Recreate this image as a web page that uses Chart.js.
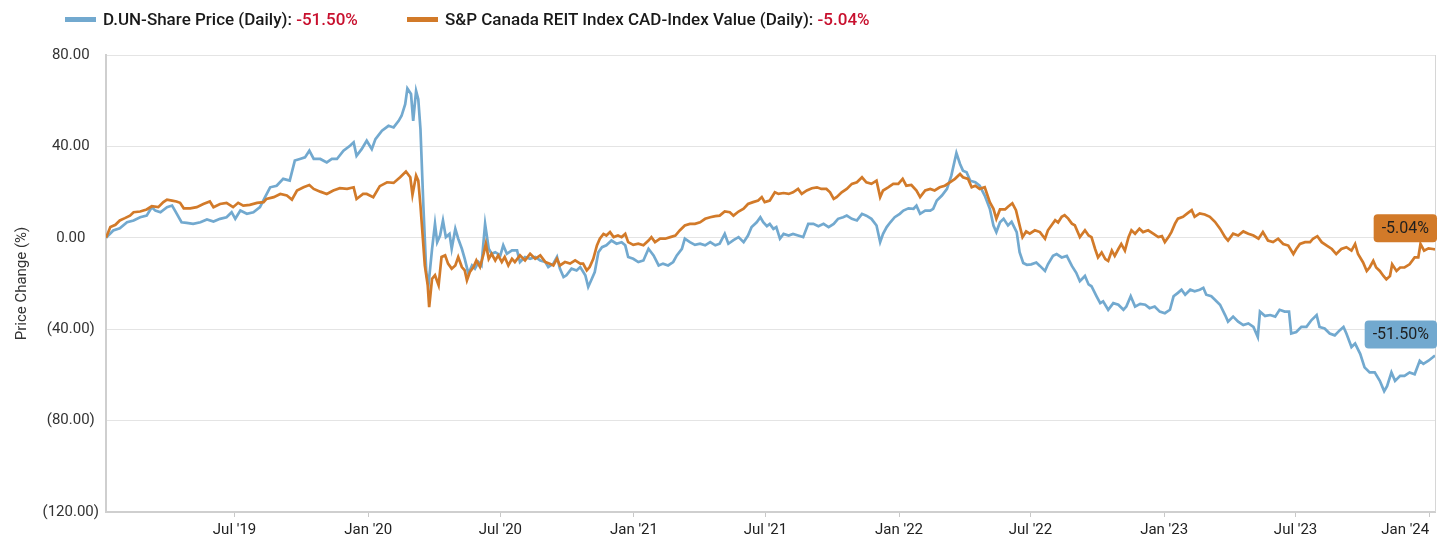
<!DOCTYPE html>
<html><head><meta charset="utf-8">
<script src="https://cdn.jsdelivr.net/npm/chart.js@4.4.1/dist/chart.umd.min.js"></script>
<style>
html,body{margin:0;padding:0;background:#fff;}
#wrap{position:relative;width:1450px;height:546px;overflow:hidden;}
canvas{position:absolute;left:0;top:0;}
#legend{position:absolute;left:0;top:0;width:1450px;height:40px;font-family:Roboto,sans-serif;font-size:17px;font-weight:500;color:#1a1a1a;}
.item{position:absolute;top:9px;height:20px;line-height:20px;white-space:nowrap;}
.sw{position:absolute;left:0;top:8px;width:31px;height:5px;}
.lbl{position:absolute;left:38px;top:0;}
.pct{color:#c8102e;}
</style></head>
<body>
<div id="wrap">
<canvas id="c" width="1450" height="546"></canvas>
<div id="legend"></div>
</div>
<script>
// x values: days since 2019-01-01
const seriesNames = ["D.UN-Share Price (Daily)", "S&P Canada REIT Index CAD-Index Value (Daily)"];
const tickDays = [181, 365, 547, 731, 912, 1096, 1277, 1461, 1642, 1826];
const tickLabels = ["Jul '19", "Jan '20", "Jul '20", "Jan '21", "Jul '21", "Jan '22", "Jul '22", "Jan '23", "Jul '23", "Jan '24"];
const yTicks = [80, 40, 0, -40, -80, -120];

const dunDays = [4,14,23,33,42,51,60,67,72,79,88,95,99,108,115,124,134,143,152,161,170,177,182,189,198,207,216,223,230,239,248,257,264,271,278,284,290,299,308,315,322,331,340,345,349,356,363,370,375,384,393,400,407,411,416,419,424,427,431,434,437,441,445,448,453,457,460,464,468,472,477,480,485,489,494,498,503,508,512,517,521,526,531,535,540,547,551,556,563,570,574,581,588,595,602,609,613,620,625,629,634,638,645,652,657,664,668,673,677,682,687,693,700,707,714,719,723,730,737,744,751,758,765,771,778,785,790,797,801,808,815,822,829,836,843,849,856,861,868,875,882,888,893,900,905,909,914,918,923,927,932,937,944,950,957,964,971,978,985,992,999,1006,1012,1019,1024,1031,1038,1045,1051,1058,1065,1070,1074,1079,1084,1090,1097,1102,1109,1116,1120,1125,1132,1139,1143,1148,1155,1162,1168,1175,1180,1184,1189,1194,1201,1207,1214,1221,1226,1230,1235,1240,1246,1251,1258,1262,1267,1272,1278,1285,1290,1297,1301,1308,1313,1320,1327,1334,1340,1345,1352,1357,1361,1368,1373,1377,1384,1391,1398,1405,1409,1415,1421,1428,1435,1441,1448,1455,1462,1469,1474,1480,1485,1490,1497,1503,1510,1515,1519,1526,1531,1538,1545,1549,1556,1563,1570,1577,1584,1590,1593,1600,1607,1614,1620,1627,1633,1636,1643,1650,1657,1664,1671,1675,1682,1689,1696,1703,1708,1712,1719,1724,1731,1737,1744,1751,1758,1764,1768,1774,1779,1786,1792,1799,1806,1813,1818,1825,1831,1834];
const dunValues = [0,3.2,4.2,6.8,7.6,9.0,9.7,13.4,11.9,11.2,13.4,14.1,11.9,6.8,6.5,6.1,6.8,8.0,7.1,8.3,9.0,11.2,8.3,11.9,10.5,11.2,13.4,17.8,22.1,22.8,25.8,25.0,33.8,34.5,35.2,38.1,34.5,34.5,33.0,34.5,34.5,38.1,40.3,41.8,35.9,38.8,42.5,38.8,43.2,46.9,49.0,48.3,51.2,53.4,58.5,65.3,62.9,51.2,64.3,60.7,47.6,14.0,-15.0,-20.8,-4.8,6.1,-1.9,1.0,7.6,0.3,1.7,-4.8,3.9,-0.4,-4.8,-9.2,-15.7,-12.1,-13.5,-10.6,-12.1,6.1,-4.8,-7.0,-6.3,-7.7,-3.3,-7.0,-5.5,-5.5,-10.6,-8.4,-9.2,-8.4,-9.9,-10.6,-12.8,-11.3,-8.4,-13.5,-17.2,-16.4,-13.5,-14.3,-12.8,-16.4,-21.5,-17.9,-15.0,-6.3,-4.1,-3.3,-1.2,-2.6,-1.9,-3.3,-8.4,-9.2,-10.6,-9.9,-4.8,-7.7,-12.1,-11.3,-12.1,-10.6,-7.7,-4.8,-0.4,-1.9,-3.1,-2.6,-3.3,-1.9,-3.3,-2.6,1.7,-2.6,-1.0,0.3,-1.9,1.0,4.7,6.8,9.0,6.8,5.1,6.1,3.9,4.7,-0.4,1.7,1.0,1.7,1.0,0.3,6.1,6.1,5.1,6.1,4.7,6.1,8.3,9.0,9.7,8.3,7.6,10.5,9.7,8.3,5.4,-1.9,1.7,4.7,6.8,9.0,10.5,11.9,12.9,12.7,14.1,10.5,11.9,11.9,12.7,16.3,18.5,21.4,27.2,37.1,32.3,29.4,28.7,25.0,24.3,22.8,18.5,12.7,5.4,2.5,6.8,8.3,5.4,7.0,2.5,-6.3,-11.0,-11.8,-11.6,-10.8,-12.3,-14.5,-11.6,-7.9,-7.1,-8.6,-7.9,-12.3,-15.3,-19.0,-16.7,-20.4,-21.2,-25.6,-28.6,-27.8,-31.5,-28.6,-29.3,-31.5,-30.1,-25.6,-30.1,-28.9,-29.3,-30.8,-30.1,-32.3,-33.0,-31.5,-25.6,-24.1,-22.7,-24.9,-22.7,-23.4,-22.7,-21.9,-24.9,-25.6,-27.1,-29.3,-33.8,-36.7,-34.5,-36.7,-38.2,-37.5,-39.0,-43.4,-32.3,-34.2,-33.8,-34.5,-31.5,-32.3,-32.3,-41.9,-41.2,-39.0,-39.0,-36.0,-33.8,-39.0,-39.7,-41.9,-42.7,-40.4,-39.0,-41.9,-47.8,-46.3,-50.8,-56.7,-58.9,-58.9,-62.6,-67.1,-64.9,-58.9,-62.6,-60.4,-60.4,-58.9,-59.7,-53.8,-55.2,-53.8,-52.3,-51.50];

const reitDays = [4,10,17,23,30,37,42,51,60,67,76,83,88,95,101,106,111,120,129,138,147,152,161,170,179,186,193,202,212,221,225,235,244,253,260,267,276,284,290,299,308,317,326,336,345,349,358,363,372,381,391,400,409,417,423,426,431,434,437,440,443,447,449,453,457,462,466,471,475,480,485,489,494,498,501,505,510,514,519,524,527,531,535,540,544,549,553,558,563,567,574,581,588,595,602,609,615,620,625,629,636,643,650,657,661,666,670,675,680,684,689,693,698,703,709,714,719,723,730,737,744,751,755,760,767,774,781,788,794,801,808,815,822,829,836,843,849,856,863,868,875,882,888,895,902,907,911,918,925,930,937,944,950,957,962,969,976,983,989,996,1001,1006,1010,1017,1024,1031,1038,1045,1051,1058,1065,1070,1074,1081,1088,1095,1101,1106,1113,1120,1125,1132,1139,1145,1152,1159,1166,1173,1180,1184,1191,1196,1201,1207,1214,1221,1226,1230,1235,1242,1246,1252,1257,1262,1266,1271,1276,1283,1290,1297,1301,1306,1311,1315,1320,1324,1329,1334,1338,1345,1352,1357,1361,1366,1370,1375,1380,1384,1389,1393,1398,1402,1407,1412,1416,1421,1427,1432,1439,1446,1453,1458,1462,1467,1471,1476,1480,1487,1493,1499,1503,1510,1517,1524,1531,1538,1545,1549,1556,1563,1570,1577,1584,1591,1597,1604,1611,1618,1625,1632,1639,1643,1648,1655,1662,1666,1672,1678,1685,1692,1698,1705,1712,1719,1724,1728,1735,1740,1744,1749,1753,1758,1763,1767,1772,1775,1781,1786,1792,1799,1806,1811,1814,1819,1825,1831,1834];
const reitValues = [0,4.7,5.7,7.6,8.6,9.7,11.2,11.5,12.4,13.8,13.4,15.6,16.7,16.3,15.9,15.3,12.9,12.9,13.4,14.8,15.9,13.4,14.8,15.3,13.4,15.3,14.1,14.4,15.3,15.6,17.0,17.8,19.2,18.5,16.7,20.7,22.1,23.1,21.4,20.2,19.2,20.7,21.7,21.4,22.1,17.0,19.2,19.2,17.8,22.6,24.3,24.0,26.5,29.0,26.5,18.8,27.2,25.0,14.1,1.0,-12.1,-20.8,-30.3,-17.9,-16.4,-20.8,-8.4,-7.7,-11.3,-13.5,-12.1,-8.4,-12.8,-14.3,-18.6,-15.0,-12.8,-9.9,-12.8,-7.0,-2.6,-9.2,-7.0,-9.9,-7.7,-10.6,-8.4,-12.1,-9.2,-10.6,-7.7,-9.9,-7.0,-9.2,-7.7,-10.6,-11.3,-12.1,-9.2,-12.1,-10.6,-11.3,-9.9,-11.3,-11.3,-14.3,-12.8,-9.2,-3.3,-0.4,1.7,1.0,2.5,0.3,1.0,0.3,1.7,-1.9,-3.1,-2.6,-3.3,-1.2,0.3,-1.9,-0.4,-0.4,0.3,1.0,3.2,5.4,6.1,6.1,6.8,8.3,9.0,9.5,9.7,11.5,11.2,9.7,11.5,12.7,14.8,15.6,16.3,17.8,15.6,16.3,19.9,19.2,19.6,19.2,19.9,21.4,19.2,20.7,21.7,22.1,21.4,21.4,19.9,17.0,17.8,19.9,21.4,23.6,24.3,26.5,24.3,23.6,25.0,17.8,20.7,22.1,23.6,23.6,25.8,22.8,23.1,20.7,17.8,20.7,21.4,20.7,22.1,22.8,24.3,25.8,27.9,26.5,25.8,22.1,22.8,21.4,22.1,15.6,12.7,8.3,12.4,12.4,13.6,15.1,12.1,5.5,0.3,2.8,1.8,3.3,2.5,-0.4,3.3,5.5,7.7,6.7,9.2,9.9,8.4,6.2,5.5,0.3,3.3,1.0,0.3,-4.9,-8.6,-6.4,-9.3,-10.1,-5.6,-7.9,-4.9,-2.7,-5.6,0.3,3.3,1.8,4.0,2.5,3.3,1.8,0.3,0.7,-1.9,0.3,2.5,6.2,8.4,9.2,10.7,12.1,9.2,10.7,10.2,9.2,7.0,4.0,0.3,-1.2,1.8,1.0,2.8,1.8,1.0,-0.4,2.5,-1.2,-1.9,-0.4,-2.7,-3.4,-7.1,-4.9,-2.7,-1.9,-1.9,-0.4,0.7,-1.9,-3.4,-4.9,-7.1,-4.9,-4.1,-5.6,-2.7,-7.1,-10.8,-14.5,-13.0,-10.1,-13.0,-14.5,-16.7,-18.2,-16.7,-11.6,-14.5,-13.0,-13.0,-11.6,-8.6,-8.6,-2.7,-5.6,-4.6,-4.9,-5.04];

const BLUE = '#72a9cf';
const ORANGE = '#d27a29';
const FONT = 'Roboto, "Open Sans", sans-serif';

function toPoints(xs, ys) { return xs.map((x, i) => ({x: x, y: ys[i]})); }
function fmtPct(v) { return v.toFixed(2) + '%'; }
function fmtY(v) { return v < 0 ? '(' + Math.abs(v).toFixed(2) + ')' : v.toFixed(2); }

// HTML legend
const legendColors = [BLUE, ORANGE];
const legendLeft = [65, 407];
const lastVals = [dunValues[dunValues.length - 1], reitValues[reitValues.length - 1]];
const lg = document.getElementById('legend');
seriesNames.forEach((n, i) => {
  const it = document.createElement('div');
  it.className = 'item';
  it.style.left = legendLeft[i] + 'px';
  const sw = document.createElement('span'); sw.className = 'sw'; sw.style.background = legendColors[i];
  const lb = document.createElement('span'); lb.className = 'lbl';
  lb.appendChild(document.createTextNode(n + ': '));
  const p = document.createElement('span'); p.className = 'pct'; p.textContent = fmtPct(lastVals[i]);
  lb.appendChild(p);
  it.appendChild(sw); it.appendChild(lb);
  lg.appendChild(it);
});

const frame = {
  id: 'frame',
  afterDatasetsDraw(chart) {
    const {ctx, chartArea} = chart;
    ctx.save();
    ctx.strokeStyle = '#d6d6d6';
    ctx.lineWidth = 1;
    ctx.beginPath();
    ctx.moveTo(chartArea.right + 0.5, chartArea.top);
    ctx.lineTo(chartArea.right + 0.5, chartArea.bottom);
    ctx.stroke();
    ctx.restore();
  }
};

const endLabels = {
  id: 'endLabels',
  afterDraw(chart) {
    const {ctx, chartArea} = chart;
    chart.data.datasets.forEach((ds, i) => {
      const meta = chart.getDatasetMeta(i);
      const pt = meta.data[meta.data.length - 1];
      const val = ds.data[ds.data.length - 1].y;
      const text = fmtPct(val);
      ctx.save();
      ctx.font = '16px ' + FONT;
      const w = ctx.measureText(text).width + 16;
      const h = 28;
      const right = chartArea.right + 2;
      const cy = pt.y - 21;
      ctx.fillStyle = ds.borderColor;
      ctx.beginPath();
      ctx.roundRect(right - w, cy - h / 2, w, h, 4);
      ctx.fill();
      ctx.fillStyle = '#1f1f1f';
      ctx.textAlign = 'center';
      ctx.textBaseline = 'middle';
      ctx.fillText(text, right - w / 2, cy + 1);
      ctx.restore();
    });
  }
};

new Chart(document.getElementById('c'), {
  type: 'line',
  data: {
    datasets: [
      {label: seriesNames[0], data: toPoints(dunDays, dunValues), borderColor: BLUE, backgroundColor: BLUE,
       borderWidth: 2.7, pointRadius: 0, tension: 0, order: 1},
      {label: seriesNames[1], data: toPoints(reitDays, reitValues), borderColor: ORANGE, backgroundColor: ORANGE,
       borderWidth: 2.7, pointRadius: 0, tension: 0, order: 0}
    ]
  },
  options: {
    responsive: false,
    animation: false,
    devicePixelRatio: 1,
    layout: {padding: {top: 55, left: 10, right: 15, bottom: 0}},
    plugins: {legend: {display: false}, tooltip: {enabled: false}},
    scales: {
      x: {
        type: 'linear', min: 4, max: 1834,
        afterBuildTicks: s => { s.ticks = [{value: 4}].concat(tickDays.map(v => ({value: v}))); },
        afterFit: s => { s.height = 34; },
        ticks: {
          autoSkip: false, maxRotation: 0, minRotation: 0, align: 'inner', padding: 4,
          color: '#222', font: {family: FONT, size: 15},
          callback: v => { const i = tickDays.indexOf(v); return i >= 0 ? tickLabels[i] : ''; }
        },
        grid: {drawOnChartArea: false, drawTicks: true, tickLength: 5,
               tickColor: c => c.index === 0 ? 'rgba(0,0,0,0)' : '#c8c8c8'},
        border: {color: '#cfcfcf', width: 2}
      },
      y: {
        min: -120, max: 80,
        afterBuildTicks: s => { s.ticks = yTicks.map(v => ({value: v})); },
        afterFit: s => { s.width = 96; },
        ticks: {crossAlign: 'center', padding: 7, color: '#333', font: {family: FONT, size: 15}, callback: v => fmtY(v)},
        grid: {color: '#e4e4e4', drawTicks: false},
        border: {color: '#cfcfcf', width: 2},
        title: {display: true, text: 'Price Change (%)', color: '#333', font: {family: FONT, size: 15}, padding: {top: 3, bottom: 0}}
      }
    }
  },
  plugins: [frame, endLabels]
});
</script>
</body></html>
